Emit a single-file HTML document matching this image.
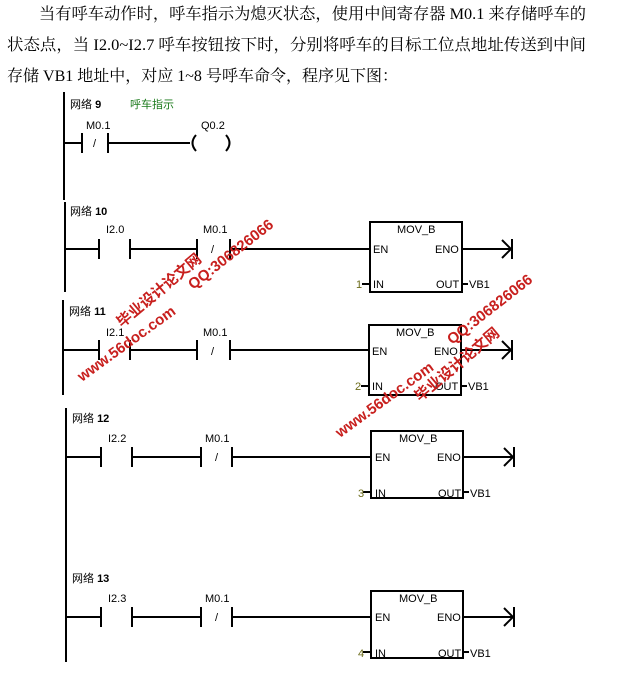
<!DOCTYPE html>
<html><head><meta charset="utf-8"><style>
body{margin:0;background:#fff;width:632px;height:677px;overflow:hidden}
svg{display:block}
.p{font-family:"Liberation Serif","Noto Serif CJK SC",serif;font-size:16px;fill:#000}
.s{font-family:"Liberation Sans","Noto Sans CJK SC",sans-serif;font-size:11px;fill:#000}
.w{font-family:"Liberation Sans","Noto Sans CJK SC",sans-serif;font-size:15px;font-weight:bold;fill:#c8201e}
</style></head><body>
<svg width="632" height="677" xmlns="http://www.w3.org/2000/svg">
<text class="p" x="39" y="19" textLength="547" lengthAdjust="spacingAndGlyphs">当有呼车动作时，呼车指示为熄灭状态，使用中间寄存器 M0.1 来存储呼车的</text>
<text class="p" x="7" y="50" textLength="579" lengthAdjust="spacingAndGlyphs">状态点，当 I2.0~I2.7 呼车按钮按下时，分别将呼车的目标工位点地址传送到中间</text>
<text class="p" x="7" y="81" textLength="391" lengthAdjust="spacingAndGlyphs">存储 VB1 地址中，对应 1~8 号呼车命令，程序见下图：</text>
<g stroke="#000" stroke-width="2" fill="none">
<line x1="64" y1="92" x2="64" y2="200"/>
<line x1="65" y1="202" x2="65" y2="292"/>
<line x1="63" y1="300" x2="63" y2="395"/>
<line x1="66" y1="408" x2="66" y2="662"/>
<line x1="64" y1="143" x2="82" y2="143"/><line x1="82" y1="133" x2="82" y2="153"/><line x1="108" y1="133" x2="108" y2="153"/><line x1="108" y1="143" x2="190" y2="143"/>
<path d="M196 135 Q189 143 196 151"/><path d="M226 135 Q233 143 226 151"/>
</g>
<text class="s" x="70" y="108">网络 <tspan font-weight="bold">9</tspan></text>
<text class="s" x="130" y="108" style="fill:#1a7a1a">呼车指示</text>
<text class="s" x="86" y="129">M0.1</text><text class="s" x="93" y="147">/</text>
<text class="s" x="201" y="129">Q0.2</text>
<g stroke="#000" stroke-width="2" fill="none">
<path d="M65 249H99M99 239V259M130 239V259M130 249H197M197 239V259M230 239V259M230 249H370"/>
<rect x="370" y="222" width="92" height="70"/><path d="M462 249H510M502 240L511 249L502 258M512 239V259M362 284H370M462 284H468"/>
<path d="M63 350H99M99 340V360M130 340V360M130 350H197M197 340V360M230 340V360M230 350H369"/>
<rect x="369" y="325" width="92" height="70"/><path d="M461 350H510M502 341L511 350L502 359M512 340V360M361 386H369M461 386H467"/>
<path d="M66 457H101M101 447V467M132 447V467M132 457H201M201 447V467M232 447V467M232 457H371"/>
<rect x="371" y="431" width="92" height="67"/><path d="M463 457H512M504 448L513 457L504 466M514 447V467M363 492H371M463 492H469"/>
<path d="M66 617H101M101 607V627M132 607V627M132 617H201M201 607V627M232 607V627M232 617H371"/>
<rect x="371" y="591" width="92" height="67"/><path d="M463 617H512M504 608L513 617L504 626M514 607V627M363 652H371M463 652H469"/>
</g>
<g>
<text class="s" x="70" y="215">网络 <tspan font-weight="bold">10</tspan></text>
<text class="s" x="106" y="233">I2.0</text><text class="s" x="203" y="233">M0.1</text><text class="s" x="211" y="253">/</text>
<text class="s" x="397" y="233">MOV_B</text><text class="s" x="373" y="253">EN</text><text class="s" x="435" y="253">ENO</text>
<text class="s" x="373" y="288">IN</text><text class="s" x="436" y="288">OUT</text><text class="s" x="469" y="288">VB1</text>
<text class="s" x="356" y="288" style="fill:#6b6b1a">1</text>

<text class="s" x="69" y="315">网络 <tspan font-weight="bold">11</tspan></text>
<text class="s" x="106" y="336">I2.1</text><text class="s" x="203" y="336">M0.1</text><text class="s" x="211" y="355">/</text>
<text class="s" x="396" y="336">MOV_B</text><text class="s" x="372" y="355">EN</text><text class="s" x="434" y="355">ENO</text>
<text class="s" x="372" y="390">IN</text><text class="s" x="435" y="390">OUT</text><text class="s" x="468" y="390">VB1</text>
<text class="s" x="355" y="390" style="fill:#6b6b1a">2</text>

<text class="s" x="72" y="422">网络 <tspan font-weight="bold">12</tspan></text>
<text class="s" x="108" y="442">I2.2</text><text class="s" x="205" y="442">M0.1</text><text class="s" x="215" y="461">/</text>
<text class="s" x="399" y="442">MOV_B</text><text class="s" x="375" y="461">EN</text><text class="s" x="437" y="461">ENO</text>
<text class="s" x="375" y="497">IN</text><text class="s" x="438" y="497">OUT</text><text class="s" x="470" y="497">VB1</text>
<text class="s" x="358" y="497" style="fill:#6b6b1a">3</text>

<text class="s" x="72" y="582">网络 <tspan font-weight="bold">13</tspan></text>
<text class="s" x="108" y="602">I2.3</text><text class="s" x="205" y="602">M0.1</text><text class="s" x="215" y="621">/</text>
<text class="s" x="399" y="602">MOV_B</text><text class="s" x="375" y="621">EN</text><text class="s" x="437" y="621">ENO</text>
<text class="s" x="375" y="657">IN</text><text class="s" x="438" y="657">OUT</text><text class="s" x="470" y="657">VB1</text>
<text class="s" x="358" y="657" style="fill:#6b6b1a">4</text>
</g>
<text class="w" transform="translate(82,382) rotate(-36)">www.56doc.com</text>
<text class="w" transform="translate(122,328) rotate(-40)">毕业设计论文网</text>
<text class="w" transform="translate(193,290) rotate(-38)">QQ:306826066</text>
<text class="w" transform="translate(340,438) rotate(-36)">www.56doc.com</text>
<text class="w" transform="translate(420,402) rotate(-40)">毕业设计论文网</text>
<text class="w" transform="translate(452,345) rotate(-38)">QQ:306826066</text>
</svg>
</body></html>
